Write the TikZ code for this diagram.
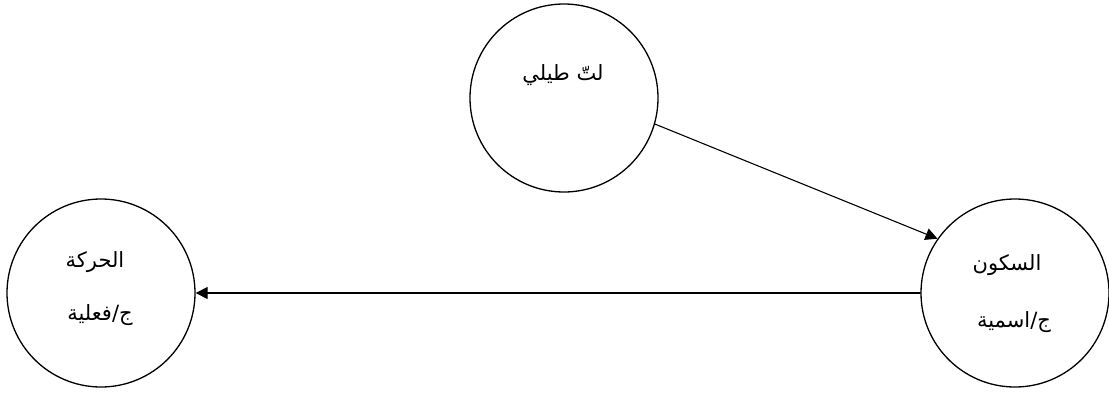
\documentclass[tikz,border=0pt]{standalone}
\usepackage{fontspec}
\newfontfamily\arabicfont[Script=Arabic]{DejaVu Sans}
\TeXXeTstate=1
\usetikzlibrary{arrows.meta}

\begin{document}
\begin{tikzpicture}[x=1pt,y=1pt,line cap=round,line join=round,
  state/.style={circle,draw=black,line width=1.3pt,minimum size=188pt,inner sep=0pt},
  lbl/.style={font=\fontsize{21}{24}\selectfont\arabicfont,inner sep=1pt},
  link/.style={-{Triangle[length=12pt,width=12pt]},line width=1.1pt}]
\useasboundingbox (0,0) rectangle (1109,392);
% the three states
\node[state] (tatili) at (564,294) {};
\node[state] (haraka) at (101,99) {};
\node[state] (sukun) at (1015,99) {};
% their texts
\node[lbl] (tatili-a) at (563,317) {\beginR لتّ طيلي\endR};
\node[lbl] (haraka-a) at (95,130) {\beginR الحركة\endR};
\node[lbl] (haraka-b) at (100,77) {\beginR ج/فعلية\endR};
\node[lbl] (sukun-a) at (1007,127) {\beginR السكون\endR};
\node[lbl] (sukun-b) at (1014,70) {\beginR ج/اسمية\endR};
% links
\draw[link] (tatili.-16) -- (sukun.145);
\draw[link] (sukun.west) -- (haraka.east);
\end{tikzpicture}
\end{document}
